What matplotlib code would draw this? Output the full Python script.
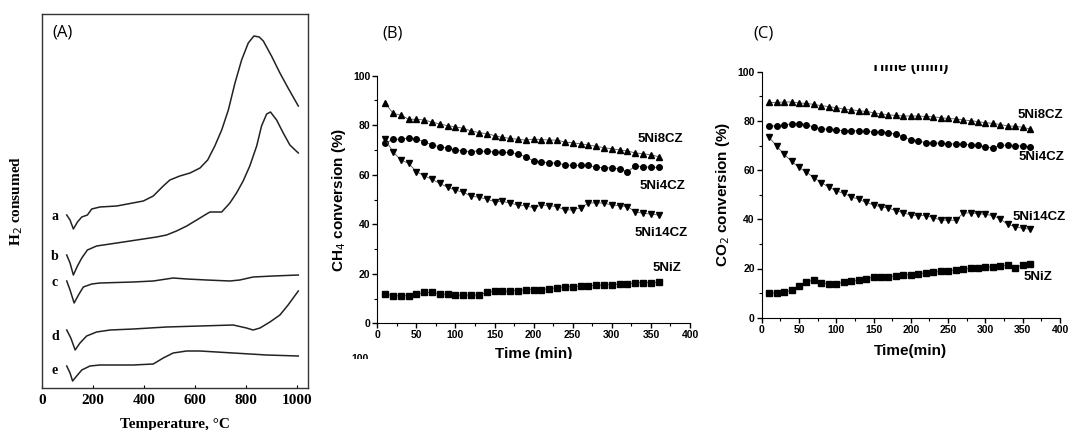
import matplotlib
matplotlib.use("Agg")
import matplotlib.pyplot as plt
from matplotlib.transforms import Bbox, TransformedBbox
from matplotlib.ticker import MultipleLocator

# ---------------- data ----------------
# (A) TPR profiles, temperature in C, signal in arbitrary units
temp_a = [98, 111, 124, 140, 157, 179, 196, 228, 294, 398, 437, 476, 502, 541, 581, 620,
          650, 678, 705, 731, 757, 783, 809, 831, 852, 868, 900, 933, 965, 1005]
sig_a = [173, 168, 159, 166, 171, 173, 179, 181, 182, 187, 192, 202, 208, 212, 215, 220,
         228, 242, 258, 278, 305, 328, 345, 352, 351, 347, 332, 315, 300, 282]
temp_b = [98, 111, 124, 140, 157, 179, 215, 294, 398, 450, 489, 528, 568, 607, 639, 659,
          705, 737, 763, 789, 815, 842, 861, 881, 896, 920, 946, 972, 1005]
sig_b = [133, 125, 113, 122, 130, 138, 142, 145, 149, 151, 153, 157, 162, 168, 173, 176,
         176, 185, 195, 207, 222, 242, 262, 274, 276, 268, 255, 243, 235]
temp_c = [98, 111, 127, 144, 163, 196, 228, 359, 437, 515, 568, 646, 737, 776, 828, 907, 1005]
sig_c = [107, 98, 85, 93, 101, 104, 105, 106, 107, 110, 109, 108, 107, 108, 111, 112, 113]
temp_d = [98, 114, 131, 150, 176, 215, 268, 359, 489, 620, 750, 802, 828, 855, 894, 933, 965, 1005]
sig_d = [58, 50, 38, 45, 52, 56, 58, 59, 61, 62, 63, 60, 58, 60, 66, 73, 83, 97]
temp_e = [98, 111, 121, 137, 157, 189, 228, 359, 437, 476, 515, 568, 620, 750, 881, 1005]
sig_e = [22, 15, 7, 12, 18, 22, 23, 23, 24, 30, 35, 37, 37, 35, 33, 32]
tpr_labels = ["a", "b", "c", "d", "e"]
tpr_label_y = [172, 132, 105, 52, 18]

# (B) and (C) time on stream, min
time = list(range(10, 361, 10))

ch4_8cz = [89.1, 84.8, 84.1, 82.4, 82.4, 82.1, 81.3, 80.5, 79.8, 79.4, 78.7, 77.7,
           77.0, 76.6, 75.8, 75.1, 74.7, 74.3, 74.0, 74.4, 74.2, 74.0, 74.0, 73.2,
           72.9, 72.5, 72.0, 71.5, 70.9, 70.5, 70.0, 69.6, 68.8, 68.5, 68.0, 67.3]
ch4_4cz = [72.7, 74.3, 74.4, 74.8, 74.4, 73.4, 72.1, 71.3, 70.8, 70.0, 69.7, 69.3,
           69.7, 69.4, 69.2, 69.0, 69.0, 68.4, 67.3, 65.5, 65.3, 64.6, 64.9, 63.9,
           63.8, 63.8, 63.8, 63.0, 62.9, 62.7, 62.4, 61.2, 63.5, 63.3, 63.0, 63.0]
ch4_14cz = [74.3, 69.3, 66.0, 64.6, 61.2, 59.6, 58.1, 56.5, 54.9, 53.8, 52.9, 51.4,
            50.9, 50.2, 49.1, 49.3, 48.5, 47.8, 47.4, 46.7, 47.8, 47.5, 47.1, 45.8,
            45.8, 46.7, 48.5, 48.7, 48.5, 47.8, 47.5, 47.1, 45.1, 44.4, 44.1, 43.7]
ch4_z = [11.8, 11.2, 11.0, 11.2, 11.7, 12.5, 12.5, 11.8, 11.7, 11.3, 11.4, 11.4,
         11.4, 12.5, 12.9, 13.0, 13.0, 13.2, 13.5, 13.6, 13.6, 14.0, 14.4, 14.7,
         14.8, 14.9, 15.1, 15.3, 15.5, 15.6, 15.9, 16.0, 16.3, 16.4, 16.4, 16.6]

co2_8cz = [87.5, 87.5, 87.7, 87.7, 87.3, 87.1, 86.7, 86.2, 85.8, 85.4, 84.8, 84.6,
           84.1, 83.9, 83.3, 82.8, 82.5, 82.2, 82.0, 82.0, 82.0, 81.8, 81.7, 81.3,
           81.0, 80.8, 80.4, 80.1, 79.7, 79.3, 79.0, 78.5, 78.0, 77.8, 77.4, 76.7]
co2_4cz = [77.8, 78.0, 78.5, 78.7, 78.9, 78.5, 77.4, 76.8, 76.6, 76.2, 76.0, 76.0,
           75.9, 75.7, 75.5, 75.5, 75.2, 74.5, 73.6, 72.2, 71.9, 71.1, 71.1, 70.9,
           70.7, 70.6, 70.5, 70.2, 70.1, 69.4, 69.0, 70.1, 70.1, 69.9, 69.8, 69.5]
co2_14cz = [73.3, 69.8, 66.4, 63.6, 61.1, 59.2, 56.9, 54.9, 53.1, 51.6, 50.5, 49.2,
            48.1, 46.9, 45.8, 45.1, 44.6, 43.5, 42.7, 41.7, 41.5, 41.5, 40.7, 39.7,
            39.6, 39.6, 42.4, 42.7, 42.3, 42.0, 41.5, 40.1, 37.9, 37.0, 36.3, 36.0]
co2_z = [10.2, 9.9, 10.3, 11.2, 12.9, 14.6, 15.4, 14.2, 13.8, 13.8, 14.4, 14.8,
         15.2, 15.9, 16.4, 16.4, 16.7, 16.9, 17.3, 17.5, 17.8, 18.2, 18.6, 18.8,
         19.1, 19.4, 19.6, 20.1, 20.2, 20.5, 20.7, 21.0, 21.4, 20.3, 21.5, 21.7]

series_names = ["5Ni8CZ", "5Ni4CZ", "5Ni14CZ", "5NiZ"]
series_markers = ["^", "o", "v", "s"]
ch4_label_pos = [(362, 74.3), (365, 55.5), (363, 36.6), (371, 22.2)]
co2_label_pos = [(373, 82.4), (375, 65.2), (372, 41.0), (370, 16.4)]

W, H = 1068, 430


def fx(px):
    return px / W


def fy(py):
    return 1 - py / H


fig = plt.figure(figsize=(10.68, 4.30), dpi=100)


def fig_clip(y0, y1):
    # clip box in figure fraction, full width
    return TransformedBbox(Bbox([[0, y0], [1, y1]]), fig.transFigure)


# ---------------- (A) ----------------
axA = fig.add_axes([fx(41.7), fy(388), fx(308) - fx(41.7), fy(14) - fy(388)])
for t, s in zip([temp_a, temp_b, temp_c, temp_d, temp_e], [sig_a, sig_b, sig_c, sig_d, sig_e]):
    axA.plot(t, s, color="#222222", lw=1.1)
for lab, y in zip(tpr_labels, tpr_label_y):
    axA.text(52, y, lab, family="Liberation Serif", fontweight="bold", fontsize=10,
             ha="center", va="center")
axA.set_xlim(0, 1043)
axA.set_ylim(0, 374)
axA.set_xticks([0, 200, 400, 600, 800, 1000])
axA.set_yticks([])
axA.tick_params(axis="x", direction="in", length=2, labelsize=11, pad=4)
for lbl in axA.get_xticklabels():
    lbl.set_family("Liberation Serif")
    lbl.set_fontweight("bold")
for sp in axA.spines.values():
    sp.set_color("#333333")
    sp.set_linewidth(1.0)
axA.set_ylabel("H$_2$ consumed", family="Liberation Serif", fontweight="bold", fontsize=11,
               labelpad=12)
axA.set_xlabel("Temperature, °C", family="Liberation Serif", fontweight="bold", fontsize=11,
               labelpad=8)
axA.text(0.04, 0.95, "(A)", transform=axA.transAxes, family="Open Sans", fontsize=12,
         ha="left", va="center")


def conversion_panel(ax, ys, label_pos, ylabel, xlabel, pad):
    for y, m, name, (lx, ly) in zip(ys, series_markers, series_names, label_pos):
        ax.plot(time, y, color="#555555", lw=0.6, marker=m, ms=4.0, mfc="black",
                mec="black")
        ax.text(lx, ly, name, fontsize=9.5, fontweight="bold", family="Liberation Sans",
                ha="center", va="center")
    ax.set_xlim(0, 400)
    ax.set_ylim(0, 100)
    ax.xaxis.set_major_locator(MultipleLocator(50))
    ax.xaxis.set_minor_locator(MultipleLocator(25))
    ax.yaxis.set_major_locator(MultipleLocator(20))
    ax.yaxis.set_minor_locator(MultipleLocator(10))
    ax.spines["top"].set_visible(False)
    ax.spines["right"].set_visible(False)
    ax.tick_params(which="major", direction="out", length=3.5, width=1, labelsize=7.5, pad=1.5)
    ax.tick_params(which="minor", direction="out", length=2, width=0.8)
    for lbl in ax.get_xticklabels() + ax.get_yticklabels():
        lbl.set_family("Liberation Sans")
        lbl.set_fontweight("bold")
    ax.set_ylabel(ylabel, fontsize=11, fontweight="bold", family="Liberation Sans", labelpad=4)
    return ax.set_xlabel(xlabel, fontsize=11, fontweight="bold", family="Liberation Sans",
                         labelpad=pad)


# ---------------- (B) ----------------
axB = fig.add_axes([fx(377.3), fy(323.3), fx(690) - fx(377.3), fy(75.7) - fy(323.3)])
xlB = conversion_panel(axB, [ch4_8cz, ch4_4cz, ch4_14cz, ch4_z], ch4_label_pos,
                       "CH$_4$ conversion (%)", "Time (min)", 5)
fig.text(fx(393), fy(33), "(B)", family="Open Sans", fontsize=12, ha="center", va="center")

# ---------------- (C) ----------------
axC = fig.add_axes([fx(761.7), fy(317.7), fx(1060) - fx(761.7), fy(71.7) - fy(317.7)])
conversion_panel(axC, [co2_8cz, co2_4cz, co2_14cz, co2_z], co2_label_pos,
                 "CO$_2$ conversion (%)", "Time(min)", 7)
fig.text(fx(764), fy(33), "(C)", family="Open Sans", fontsize=12, ha="center", va="center")

# cropped remnants from the source figure
xlB.set_clip_box(fig_clip(fy(358.5), 1))
t100 = fig.text(fx(360), fy(354), "100", fontsize=7.5, fontweight="bold",
                family="Liberation Sans", ha="center", va="top")
t100.set_clip_box(fig_clip(fy(358.5), 1))
ttop = fig.text(fx(910), fy(70.5), "Time (min)", fontsize=11, fontweight="bold",
                family="Liberation Sans", ha="center", va="baseline")
ttop.set_clip_box(fig_clip(0, fy(64.5)))

fig.savefig("out.png", dpi=100)
